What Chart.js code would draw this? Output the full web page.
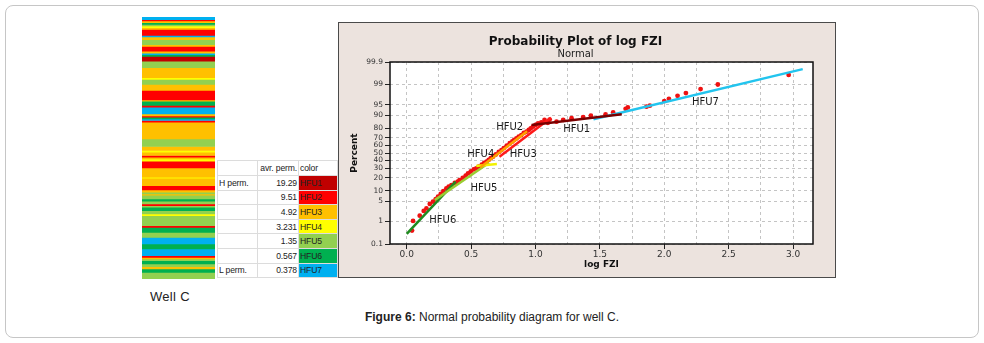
<!DOCTYPE html>
<html>
<head>
<meta charset="utf-8">
<script src="https://cdn.jsdelivr.net/npm/chart.js@4.4.1/dist/chart.umd.min.js"></script>
<style>
body{margin:0;width:984px;height:343px;position:relative;overflow:hidden;background:#fff;font-family:'Liberation Sans',Arial,sans-serif}
#marco{position:absolute;left:5px;top:5px;width:974px;height:333px;border:1px solid #c6c6c6;border-radius:8px;box-sizing:border-box}
#pozo{position:absolute;left:142px;top:17px}
#panel{position:absolute;left:338px;top:22px;width:498px;height:256px;background:#ece3de;border:1.5px solid #4a4a4a;box-sizing:border-box}
#grafico{position:absolute;left:338px;top:22px}
#tabla{position:absolute;left:217px;top:160px;width:120px;border-collapse:collapse;table-layout:fixed;font-family:'Liberation Sans',sans-serif;font-size:8.6px;letter-spacing:-0.15px;color:#222}
#tabla td{border:1px solid #dcdcdc;padding:0 1px;line-height:12px;white-space:nowrap;overflow:hidden}
#tabla td.num{text-align:right}
#well{position:absolute;left:150px;top:289px;font-size:13px;color:#222;letter-spacing:0.3px}
#pie{position:absolute;left:0;width:984px;top:310px;text-align:center;font-size:12px;color:#222}
</style>
</head>
<body>
<div id="marco"></div>
<canvas id="pozo" width="73" height="262"></canvas>
<table id="tabla"></table>
<div id="well">Well C</div>
<div id="panel"></div>
<canvas id="grafico" width="498" height="256"></canvas>
<div id="pie"><b>Figure 6:</b> Normal probability diagram for well C.</div>
<script>
// unidades de flujo (HFU) y su permeabilidad media
const hfuNombres = ['HFU1', 'HFU2', 'HFU3', 'HFU4', 'HFU5', 'HFU6', 'HFU7']
const hfuColores = ['#c00000', '#ff0000', '#ffc000', '#ffff00', '#92d050', '#00b050', '#00b0f0']
const permEtiquetas = ['H perm.', '', '', '', '', '', 'L perm.']
const permMedia = [19.29, 9.51, 4.92, 3.231, 1.35, 0.567, 0.378]

// registro del pozo: techo de cada capa y su HFU
const capaTecho = [0, 2.7, 4, 5.7, 7.3, 9, 10.7, 12.3, 18.3, 20, 22.7, 27.7, 29.3, 34, 36, 37.7, 39.3, 44, 50.7, 60.7,
    62.3, 67.3, 73.3, 82.7, 84, 88.3, 90, 96.7, 98.7, 100, 101.7, 103.3, 105, 121.7, 129.3, 133.3, 135, 138.3, 140, 141.7,
    144, 150.6, 160, 161, 168.3, 172.6, 175, 176.6, 178, 181.6, 184, 186.6, 188.3, 190, 193.3, 196.6, 198.3, 208.3, 210, 215,
    220, 226.6, 231.6, 238.3, 240, 241.6, 243.3, 246.6, 249.3, 251.6, 255]
const capaHfu = [7, 2, 3, 6, 5, 4, 3, 2, 7, 3, 5, 3, 2, 3, 7, 6, 1, 5, 3, 4,
    5, 3, 2, 3, 6, 2, 7, 3, 2, 6, 7, 2, 3, 5, 3, 4, 3, 2, 3, 4,
    2, 3, 4, 3, 2, 3, 5, 3, 5, 6, 5, 2, 5, 6, 5, 4, 5, 2, 6, 5,
    7, 6, 7, 2, 3, 5, 6, 5, 3, 6, 5]
const fondoPozo = 261.6

// log FZI contra porcentaje acumulado
const puntosX = [0.041, 0.049, 0.101, 0.132, 0.153, 0.179, 0.204, 0.225, 0.243, 0.264, 0.284, 0.308, 0.326, 0.347, 0.373,
    0.396, 0.41, 0.435, 0.458, 0.476, 0.497, 0.52, 0.54, 0.559, 0.583, 0.602, 0.62, 0.637, 0.653, 0.67, 0.692, 0.715,
    0.736, 0.754, 0.777, 0.80, 0.82, 0.835, 0.852, 0.87, 0.89, 0.909, 0.93, 0.948, 0.963, 0.98, 1.0, 1.02, 1.045, 1.07,
    1.11, 1.096, 1.163, 1.215, 1.28, 1.37, 1.43, 1.544, 1.603, 1.70, 1.717, 1.862, 1.888, 2.0, 2.036, 2.103, 2.168,
    2.282, 2.416, 2.966]
const puntosP = [0.42, 1.05, 1.67, 2.45, 3.0, 4.2, 4.9, 5.9, 6.9, 8.2, 9.8, 11.5, 12.7, 13.8, 15.4,
    16.6, 17.9, 19.8, 22.2, 24.5, 26.5, 28.8, 30, 32.3, 34.6, 36.7, 38.4, 40.9, 43.2, 45, 48, 51.4,
    54, 56.7, 60, 63, 65.2, 67.3, 69, 71.2, 72.9, 75.2, 76.5, 78.3, 79.8, 81.4, 82.9, 84.2, 85.0, 86.9,
    87.2, 84.8, 85.6, 86.9, 88.1, 88.9, 89.7, 90.5, 91.6, 93.3, 93.9, 94.2, 94.6, 96.1, 96.7, 97.4, 97.9,
    98.5, 99.0, 99.6]

// rectas ajustadas por HFU (inicio y fin)
const rectaX0 = [0.97, 0.72, 0.57, 0.54, 0.218, 0.0, 1.45]
const rectaP0 = [83, 45, 31, 33, 5.5, 0.3, 87.4]
const rectaX1 = [1.67, 1.12, 0.935, 0.70, 0.64, 0.38, 3.075]
const rectaP1 = [90.6, 88.5, 77, 35.5, 37, 16.5, 99.78]
const rectaColores = ['#7a0000', '#ff1a1a', '#ffa200', '#f2f200', '#9acd32', '#1f8a1f', '#22c4ee']

// posicion de los rotulos HFU
const rotuloX = [1.32, 0.80, 0.905, 0.575, 0.60, 0.28, 2.32]
const rotuloP = [79, 81, 48, 48, 11.5, 1.15, 95.7]

const ticksY = [0.1, 1, 5, 10, 20, 30, 40, 50, 60, 70, 80, 90, 95, 99, 99.9]
const ticksX = [0, 0.25, 0.5, 0.75, 1, 1.25, 1.5, 1.75, 2, 2.25, 2.5, 2.75, 3]

// tabla
let tabla = document.getElementById('tabla')
let html = '<colgroup><col style="width:40px"><col style="width:41px"><col style="width:39px"></colgroup>'
html += '<tr style="height:15px"><td></td><td class="num">avr. perm.</td><td>color</td></tr>'
permMedia.forEach((valor, i) => {
    html += '<tr style="height:14.6px"><td>' + permEtiquetas[i] + '</td><td class="num">' + valor +
        '</td><td style="background:' + hfuColores[i] + '">' + hfuNombres[i] + '</td></tr>'
})
tabla.innerHTML = html

// columna del pozo
new Chart(document.getElementById('pozo'), {
    type: 'bar',
    data: {
        labels: ['Well C'],
        datasets: capaTecho.map((techo, i) => ({
            data: [[techo, i < capaTecho.length - 1 ? capaTecho[i + 1] : fondoPozo]],
            backgroundColor: hfuColores[capaHfu[i] - 1],
            borderWidth: 0,
            grouped: false,
            barPercentage: 1,
            categoryPercentage: 1
        }))
    },
    options: {
        responsive: false,
        animation: false,
        events: [],
        layout: { padding: 0 },
        plugins: { legend: { display: false }, tooltip: { enabled: false } },
        scales: {
            x: { display: false },
            y: { display: false, reverse: true, min: 0, max: fondoPozo }
        }
    }
})

// escala de probabilidad normal
function probit(p) {
    const q = p / 100
    const a = [-39.69683028665376, 220.9460984245205, -275.9285104469687, 138.3577518672690, -30.66479806614716, 2.506628277459239]
    const b = [-54.47609879822406, 161.5858368580409, -155.6989798598866, 66.80131188771972, -13.28068155288572]
    const c = [-0.007784894002430293, -0.3223964580411365, -2.400758277161838, -2.549732539343734, 4.374664141464968, 2.938163982698783]
    const d = [0.007784695709041462, 0.3224671290700398, 2.445134137142996, 3.754408661907416]
    if (q < 0.02425 || q > 0.97575) {
        const s = Math.sqrt(-2 * Math.log(q < 0.5 ? q : 1 - q))
        const z = (((((c[0] * s + c[1]) * s + c[2]) * s + c[3]) * s + c[4]) * s + c[5]) / ((((d[0] * s + d[1]) * s + d[2]) * s + d[3]) * s + 1)
        return q < 0.5 ? z : -z
    }
    const s = q - 0.5, r = s * s
    return (((((a[0] * r + a[1]) * r + a[2]) * r + a[3]) * r + a[4]) * r + a[5]) * s / (((((b[0] * r + b[1]) * r + b[2]) * r + b[3]) * r + b[4]) * r + 1)
}

class EscalaProbit extends Chart.Scale {
    determineDataLimits() {
        this.min = ticksY[0]
        this.max = ticksY[ticksY.length - 1]
    }
    buildTicks() {
        return ticksY.map(v => ({ value: v }))
    }
    getLabelForValue(v) {
        return String(v)
    }
    configure() {
        super.configure()
        this._zMin = probit(this.min)
        this._zMax = probit(this.max)
    }
    getPixelForValue(v) {
        return this.getPixelForDecimal((probit(v) - this._zMin) / (this._zMax - this._zMin))
    }
    getValueForPixel(px) {
        const z = this._zMin + this.getDecimalForPixel(px) * (this._zMax - this._zMin)
        let lo = this.min, hi = this.max
        for (let k = 0; k < 40; k++) {
            const m = (lo + hi) / 2
            if (probit(m) < z) lo = m; else hi = m
        }
        return lo
    }
}
EscalaProbit.id = 'probit'
EscalaProbit.defaults = {}
Chart.register(EscalaProbit)

const marcoYRotulos = {
    id: 'marcoYRotulos',
    beforeDatasetsDraw(chart) {
        const { ctx, chartArea: a } = chart
        ctx.save()
        ctx.globalCompositeOperation = 'destination-over'
        ctx.fillStyle = '#ffffff'
        ctx.fillRect(a.left, a.top, a.right - a.left, a.bottom - a.top)
        ctx.restore()
    },
    afterDatasetsDraw(chart) {
        const { ctx, chartArea: a, scales: { x, y } } = chart
        ctx.save()
        ctx.font = '10px "DejaVu Sans"'
        ctx.fillStyle = '#1a1a1a'
        ctx.textAlign = 'center'
        ctx.textBaseline = 'middle'
        hfuNombres.forEach((t, i) => {
            ctx.fillText(t, x.getPixelForValue(rotuloX[i]), y.getPixelForValue(rotuloP[i]))
        })
        ctx.strokeStyle = '#111'
        ctx.lineWidth = 1.5
        ctx.strokeRect(a.left, a.top, a.right - a.left, a.bottom - a.top)
        ctx.restore()
    }
}

let rectas = hfuNombres.map((nombre, i) => ({
    label: nombre,
    data: [{ x: rectaX0[i], y: rectaP0[i] }, { x: rectaX1[i], y: rectaP1[i] }],
    showLine: true,
    borderColor: rectaColores[i],
    borderWidth: 2.5,
    pointRadius: 0
}))
let puntos = {
    label: 'log FZI',
    data: puntosX.map((v, i) => ({ x: v, y: puntosP[i] })),
    backgroundColor: '#ee1111',
    pointBorderWidth: 0,
    pointRadius: 2.4
}

const esMedio = v => Math.round(v * 100) % 50 === 0
const rejilla = { color: '#c4c4c4', lineWidth: 1, tickLength: 5, tickWidth: 1 }

new Chart(document.getElementById('grafico'), {
    type: 'scatter',
    data: { datasets: rectas.concat([puntos]) },
    options: {
        responsive: false,
        animation: false,
        events: [],
        layout: { padding: { top: 13, right: 23, left: 0, bottom: 0 } },
        plugins: {
            legend: { display: false },
            tooltip: { enabled: false },
            title: {
                display: true, text: 'Probability Plot of log FZI', color: '#111',
                font: { family: 'DejaVu Sans', size: 12, weight: 'bold', lineHeight: 1 },
                padding: { top: 1, bottom: 0 }
            },
            subtitle: {
                display: true, text: 'Normal', color: '#222',
                font: { family: 'DejaVu Sans', size: 10, lineHeight: 1 },
                padding: { top: 1, bottom: 3 }
            }
        },
        scales: {
            x: {
                type: 'linear', min: -0.13, max: 3.155,
                afterBuildTicks: s => { s.ticks = ticksX.map(v => ({ value: v })) },
                afterFit: s => { s.height = 34 },
                ticks: {
                    autoSkip: false, maxRotation: 0, padding: 0, color: '#333',
                    font: { family: 'DejaVu Sans', size: 9 },
                    callback: v => esMedio(v) ? v.toFixed(1) : ''
                },
                grid: Object.assign({}, rejilla, { tickColor: c => c.tick && esMedio(c.tick.value) ? '#222' : 'rgba(0,0,0,0)' }),
                border: { display: false, dash: [3, 3] },
                title: {
                    display: true, text: 'log FZI', color: '#111',
                    font: { family: 'DejaVu Sans', size: 9, weight: 'bold' },
                    padding: { top: 0, bottom: 7.5 }
                }
            },
            y: {
                type: 'probit',
                afterFit: s => { s.width = 52 },
                ticks: {
                    autoSkip: false, padding: 2, color: '#333',
                    font: { family: 'DejaVu Sans', size: 7.5 }
                },
                grid: Object.assign({}, rejilla, { tickColor: '#222' }),
                border: { display: false, dash: [3, 3] },
                title: {
                    display: true, text: 'Percent', color: '#111',
                    font: { family: 'DejaVu Sans', size: 9, weight: 'bold' },
                    padding: { top: 11, bottom: 0 }
                }
            }
        }
    },
    plugins: [marcoYRotulos]
})
</script>
</body>
</html>
